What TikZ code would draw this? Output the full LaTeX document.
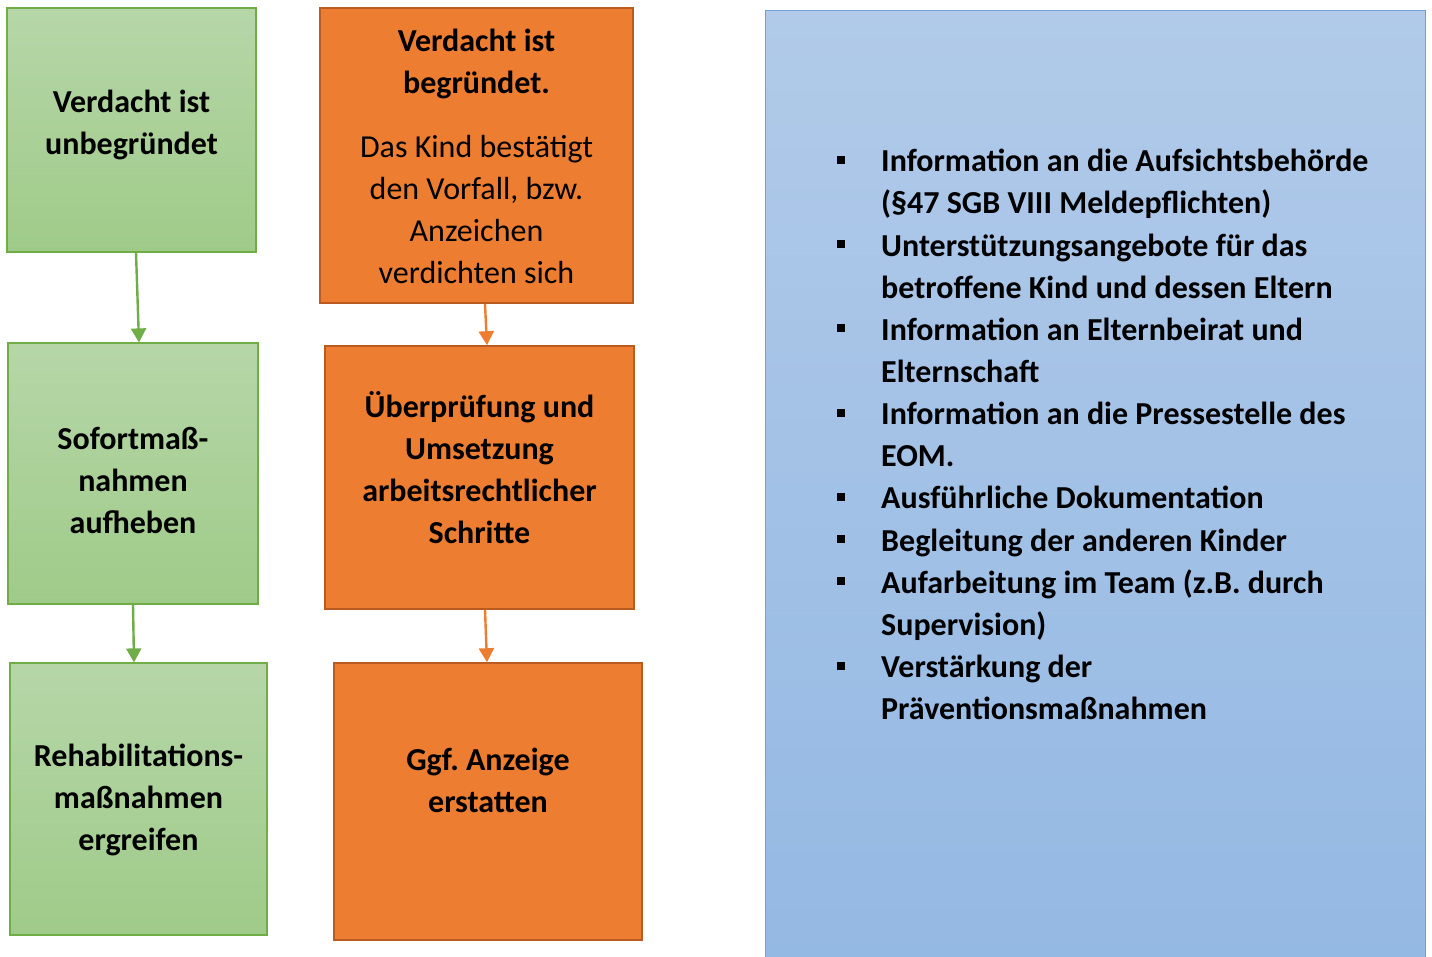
\documentclass[tikz,border=0pt]{standalone}
\usepackage{fontspec}
\setmainfont{Carlito}
\usepackage{xcolor}
\usetikzlibrary{arrows.meta}
\frenchspacing
\definecolor{gruenrand}{RGB}{112,173,71}
\definecolor{gruenoben}{RGB}{182,214,168}
\definecolor{gruenunten}{RGB}{159,203,137}
\definecolor{orangefill}{RGB}{237,125,49}
\definecolor{orangerand}{RGB}{186,92,33}
\definecolor{blauoben}{RGB}{177,202,233}
\definecolor{blauunten}{RGB}{147,184,227}
\definecolor{blaurand}{RGB}{112,160,215}
\newcommand{\punkt}{\hspace*{2pt}\rule[8pt]{8pt}{8pt}}

\begin{document}
\begin{tikzpicture}[x=1pt,y=-1pt,
    gruen/.style={draw=gruenrand,line width=1.2pt,top color=gruenoben,bottom color=gruenunten},
    orange/.style={draw=orangerand,line width=1.6pt,fill=orangefill},
    boxtext/.style={align=center,font=\bfseries\fontsize{32}{42}\selectfont},
    gpfeil/.style={draw=gruenrand,line width=2.4pt,-{Triangle[width=15pt,length=14pt]}},
    opfeil/.style={draw=orangefill,line width=2.4pt,-{Triangle[width=15pt,length=14pt]}}]
    \useasboundingbox (0,0) rectangle (1432,956);
    \node[gruen,minimum width=249,minimum height=244] (unbeg) at (131.5,130) {};
    \node[gruen,minimum width=250,minimum height=261] (sofort) at (133,473.5) {};
    \node[gruen,minimum width=257,minimum height=272] (reha) at (138.5,799) {};
    \node[orange,minimum width=313,minimum height=295] (begr) at (476.5,155.5) {};
    \node[orange,minimum width=309,minimum height=263] (pruef) at (479.5,477.5) {};
    \node[orange,minimum width=308,minimum height=277] (anzeige) at (488,801.5) {};
    \node[boxtext] (unbegtext) at (131.5,125) {Verdacht ist\\unbegründet};
    \node[boxtext] (soforttext) at (133,480) {Sofortmaß-\\nahmen\\aufheben};
    \node[boxtext] (rehatext) at (138.5,800) {Rehabilitations-\\maßnahmen\\ergreifen};
    \node[boxtext,font=\fontsize{32}{42}\selectfont] (begrtext) at (476.5,156)
      {\textbf{Verdacht ist}\\\textbf{begründet.}\\[22pt]Das Kind bestätigt\\den Vorfall, bzw.\\Anzeichen\\verdichten sich};
    \node[boxtext] (prueftext) at (479.5,468) {Überprüfung und\\Umsetzung\\arbeitsrechtlicher\\Schritte};
    \node[boxtext] (anzeigetext) at (488,780) {Ggf. Anzeige\\erstatten};
    \node[draw=blaurand,line width=1pt,top color=blauoben,bottom color=blauunten,
      minimum width=660,minimum height=980] (massn) at (1095,500) {};
    \node[anchor=north west,inner sep=0pt,align=left,font=\bfseries\fontsize{32}{42.15}\selectfont] (liste) at (835,142)
      {\begin{tabular}{@{}p{46pt}@{}l@{}}
        \punkt & Information an die Aufsichtsbehörde\\
               & (§47 SGB VIII Meldepflichten)\\
        \punkt & Unterstützungsangebote für das\\
               & betroffene Kind und dessen Eltern\\
        \punkt & Information an Elternbeirat und\\
               & Elternschaft\\
        \punkt & Information an die Pressestelle des\\
               & EOM.\\
        \punkt & Ausführliche Dokumentation\\
        \punkt & Begleitung der anderen Kinder\\
        \punkt & Aufarbeitung im Team (z.B. durch\\
               & Supervision)\\
        \punkt & Verstärkung der\\
               & Präventionsmaßnahmen
      \end{tabular}};
    \draw[gpfeil] ([xshift=4.5pt]unbeg.south) -- ([xshift=6pt]sofort.north);
    \draw[gpfeil] (sofort.south) -- ([xshift=-4.5pt]reha.north);
    \draw[opfeil] ([xshift=8.5pt]begr.south) -- ([xshift=7.5pt]pruef.north);
    \draw[opfeil] ([xshift=5.5pt]pruef.south) -- ([xshift=-1pt]anzeige.north);
\end{tikzpicture}
\end{document}
